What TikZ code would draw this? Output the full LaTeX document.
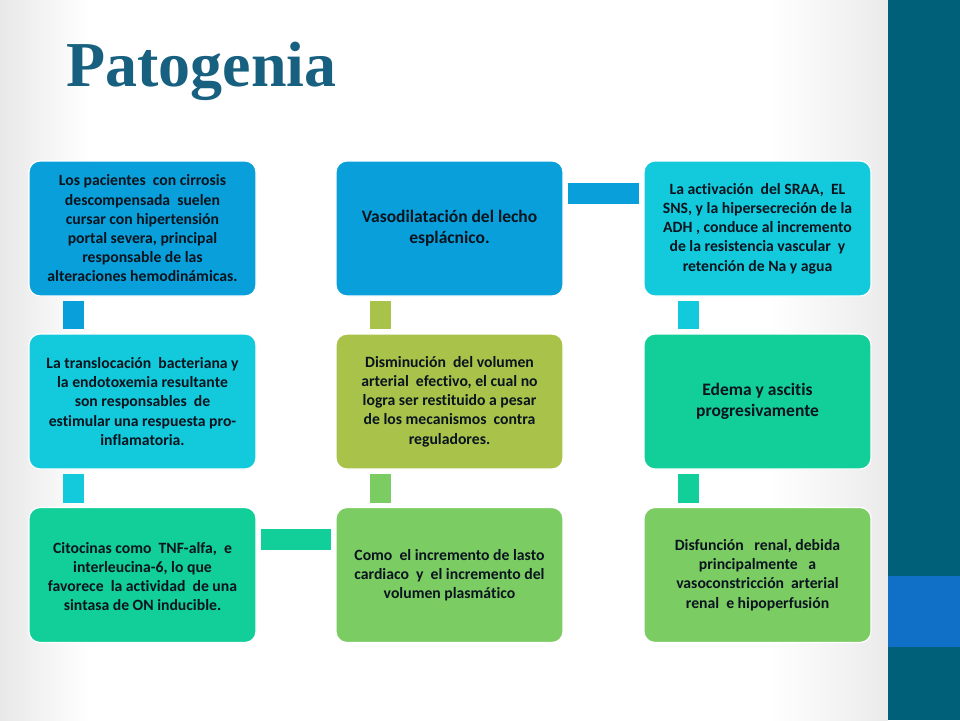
\documentclass[tikz,border=0pt]{standalone}
\usepackage{fontspec}
\setmainfont{Carlito}[Ligatures={NoCommon}]
\newfontfamily\titlefont{Liberation Serif}
\usetikzlibrary{positioning}
\definecolor{blueC}{RGB}{9,159,218}
\definecolor{cyanC}{RGB}{18,202,220}
\definecolor{tealC}{RGB}{18,206,152}
\definecolor{greenC}{RGB}{124,204,100}
\definecolor{oliveC}{RGB}{168,194,74}
\definecolor{titleC}{RGB}{23,96,128}
\definecolor{barC}{RGB}{0,96,122}
\definecolor{bandC}{RGB}{16,112,200}
\definecolor{txtC}{RGB}{10,20,30}
\tikzset{
  box/.style={rectangle, rounded corners=11pt, minimum width=227pt, minimum height=135pt,
    inner sep=4pt, draw=white, line width=1.2pt, align=center, text=txtC,
    font=\bfseries\fontsize{15.7}{19.2}\selectfont},
  bigbox/.style={box, font=\bfseries\fontsize{17.5}{21}\selectfont},
  conn/.style={line width=21pt, shorten <=4pt, shorten >=4pt}
}
\begin{document}
\begin{tikzpicture}[x=1pt,y=-1pt]
\useasboundingbox (0,0) rectangle (960,720);
% background
\fill[white] (0,0) rectangle (960,720);
\shade[left color=black!9, right color=white] (0,0) rectangle (90,720);
\shade[left color=white, right color=black!8] (770,0) rectangle (888,720);
\fill[barC] (888,0) rectangle (960,720);
\fill[bandC] (888,576) rectangle (960,647);
% title
\node[anchor=base west, inner sep=0pt, text=titleC, font=\titlefont\bfseries\fontsize{64}{64}\selectfont] (title) at (66,86) {Patogenia};
% boxes
\node[box, fill=blueC] (a1) at (142.5,228.5) {Los pacientes\ \ con cirrosis\\descompensada\ \ suelen\\cursar con hipertensión\\portal severa, principal\\responsable de las\\alteraciones hemodinámicas.};
\node[box, fill=cyanC] (a2) at (142.5,401.5) {La translocación\ \ bacteriana y\\la endotoxemia resultante\\son responsables\ \ de\\estimular una respuesta pro-\\inflamatoria.};
\node[box, fill=tealC] (a3) at (142.5,575) {\mbox{}\\[-5pt]Citocinas como\ \ TNF-alfa,\ \ e\\interleucina-6, lo que\\favorece\ \ la actividad\ \ de una\\sintasa de ON inducible.};
\node[bigbox, fill=blueC] (b1) at (449.5,228.5) {Vasodilatación del lecho\\esplácnico.};
\node[box, fill=oliveC] (b2) at (449.5,401.5) {Disminución\ \ del volumen\\arterial\ \ efectivo, el cual no\\logra ser restituido a pesar\\de los mecanismos\ \ contra\\reguladores.};
\node[box, fill=greenC] (b3) at (449.5,575) {Como\ \ el incremento de lasto\\cardiaco\ \ y\ \ el incremento del\\volumen plasmático};
\node[box, fill=cyanC] (c1) at (757.5,228.5) {La activación\ \ del SRAA,\ \ EL\\SNS, y la hipersecreción de la\\ADH , conduce al incremento\\de la resistencia vascular\ \ y\\retención de Na y agua};
\node[bigbox, fill=tealC] (c2) at (757.5,401.5) {Edema y ascitis\\progresivamente};
\node[box, fill=greenC] (c3) at (757.5,575) {Disfunción\ \ \ renal, debida\\principalmente\ \ \ a\\vasoconstricción\ \ arterial\\renal\ \ e hipoperfusión};
% connectors
\draw[conn, blueC] ([xshift=-69pt]a1.south) -- ([xshift=-69pt]a2.north);
\draw[conn, cyanC] ([xshift=-69pt]a2.south) -- ([xshift=-69pt]a3.north);
\draw[conn, tealC] ([yshift=35.5pt]a3.east) -- ([yshift=35.5pt]b3.west);
\draw[conn, greenC] ([xshift=-69pt]b3.north) -- ([xshift=-69pt]b2.south);
\draw[conn, oliveC] ([xshift=-69pt]b2.north) -- ([xshift=-69pt]b1.south);
\draw[conn, blueC] ([yshift=35.5pt]b1.east) -- ([yshift=35.5pt]c1.west);
\draw[conn, cyanC] ([xshift=-69pt]c1.south) -- ([xshift=-69pt]c2.north);
\draw[conn, tealC] ([xshift=-69pt]c2.south) -- ([xshift=-69pt]c3.north);
\end{tikzpicture}
\end{document}
